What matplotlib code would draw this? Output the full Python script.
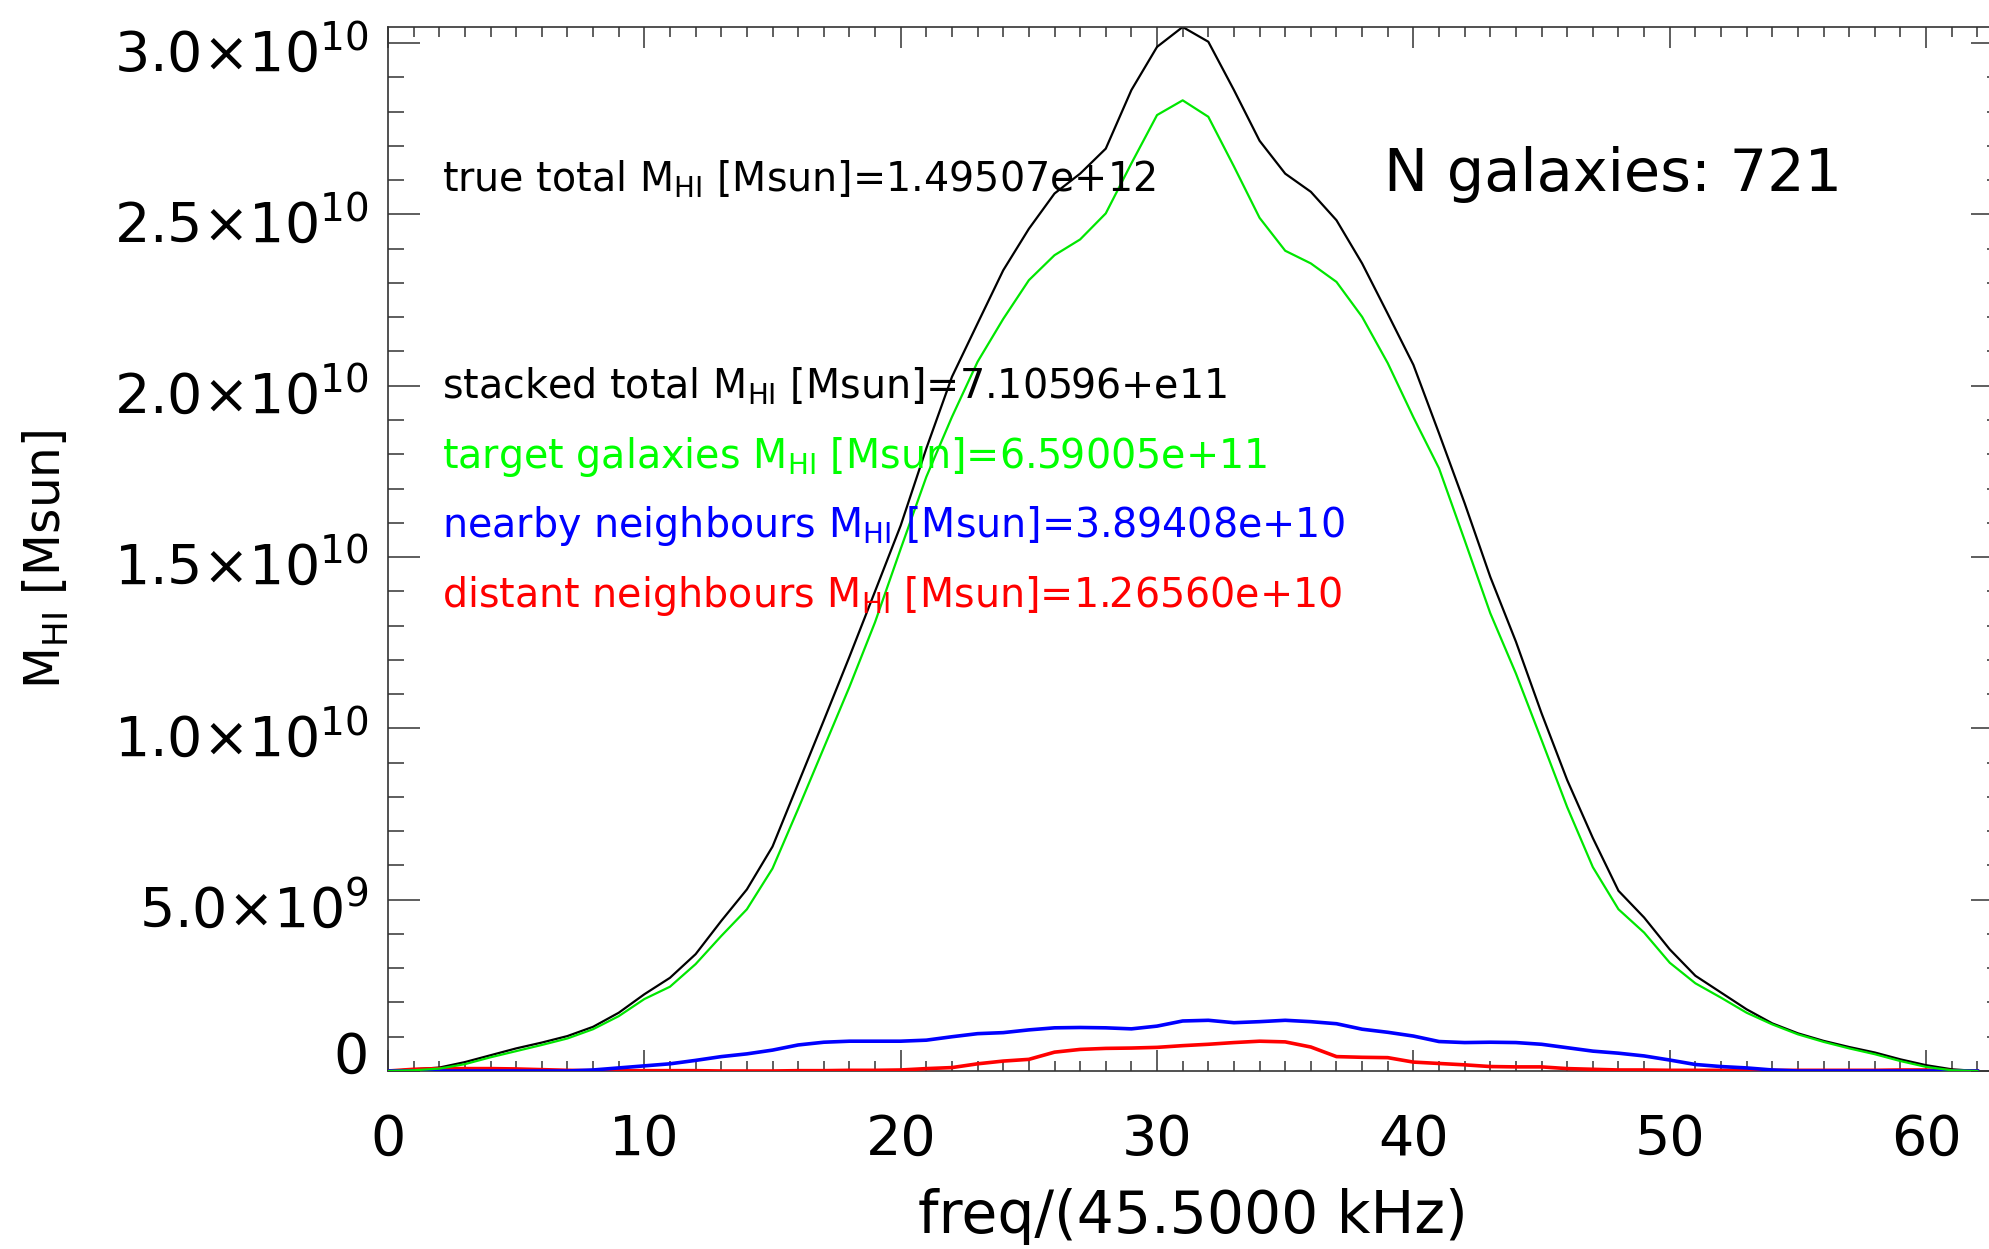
import numpy as np
import matplotlib
matplotlib.use("Agg")
import matplotlib.pyplot as plt
from matplotlib.ticker import FixedLocator, MultipleLocator
from matplotlib.transforms import ScaledTranslation

plt.rcParams['font.family'] = ['DejaVu Sans']
plt.rcParams['mathtext.default'] = 'regular'

# frequency channels of the stacked spectrum
channels = np.arange(0, 63)

# HI mass per channel, in units of 1e9 Msun
stacked_total = [0.0, 0.05, 0.1, 0.26, 0.46, 0.66, 0.83, 1.02, 1.29, 1.70,
                 2.24, 2.72, 3.41, 4.38, 5.3, 6.55, 8.39, 10.23, 12.09, 14.0,
                 15.92, 18.17, 20.26, 21.82, 23.37, 24.58, 25.61, 26.19, 26.92, 28.63,
                 29.89, 30.47, 30.04, 28.63, 27.15, 26.19, 25.66, 24.83, 23.57, 22.1,
                 20.61, 18.61, 16.57, 14.42, 12.53, 10.44, 8.49, 6.8, 5.26, 4.48,
                 3.55, 2.78, 2.29, 1.80, 1.39, 1.10, 0.88, 0.70, 0.54, 0.34,
                 0.17, 0.05, 0.0]
target_galaxies = [0.0, 0.02, 0.07, 0.2, 0.4, 0.58, 0.76, 0.95, 1.22, 1.6,
                   2.1, 2.46, 3.12, 3.94, 4.72, 5.91, 7.65, 9.43, 11.21, 13.1,
                   15.24, 17.34, 19.09, 20.7, 21.95, 23.08, 23.81, 24.27, 25.03, 26.49,
                   27.9, 28.33, 27.85, 26.4, 24.9, 23.94, 23.57, 23.03, 22.01, 20.66,
                   19.08, 17.59, 15.49, 13.36, 11.6, 9.66, 7.7, 5.95, 4.72, 4.04,
                   3.16, 2.56, 2.14, 1.70, 1.36, 1.07, 0.85, 0.66, 0.49, 0.29,
                   0.12, 0.02, 0.0]
nearby_neighbours = [0, 0, 0, 0, 0, 0, 0, 0, 0.03, 0.09,
                     0.15, 0.21, 0.31, 0.42, 0.5, 0.61, 0.76, 0.84, 0.87, 0.87,
                     0.87, 0.9, 1.0, 1.09, 1.12, 1.2, 1.26, 1.27, 1.26, 1.23,
                     1.31, 1.46, 1.48, 1.41, 1.44, 1.48, 1.44, 1.38, 1.22, 1.13,
                     1.02, 0.86, 0.83, 0.84, 0.83, 0.78, 0.68, 0.58, 0.52, 0.44,
                     0.32, 0.19, 0.13, 0.09, 0.03, 0, 0, 0, 0, 0,
                     0, 0, 0]
distant_neighbours = [0.0, 0.05, 0.07, 0.07, 0.07, 0.06, 0.04, 0.02, 0.01, 0.01,
                      0.01, 0.01, 0.01, 0.0, 0.0, 0.0, 0.01, 0.01, 0.02, 0.02,
                      0.03, 0.07, 0.1, 0.21, 0.29, 0.34, 0.55, 0.63, 0.66, 0.67,
                      0.69, 0.74, 0.78, 0.83, 0.87, 0.85, 0.70, 0.42, 0.40, 0.39,
                      0.26, 0.22, 0.18, 0.13, 0.12, 0.12, 0.07, 0.05, 0.03, 0.03,
                      0.02, 0.02, 0.02, 0.02, 0.02, 0.02, 0.02, 0.02, 0.02, 0.03,
                      0.03, 0.01, 0.0]

xtick_values = [0, 10, 20, 30, 40, 50, 60]
ytick_values = [0, 5e9, 1.0e10, 1.5e10, 2.0e10, 2.5e10, 3.0e10]
ytick_labels = ['0', r'$5.0{\times}10^{9}$', r'$1.0{\times}10^{10}$', r'$1.5{\times}10^{10}$',
                r'$2.0{\times}10^{10}$', r'$2.5{\times}10^{10}$', r'$3.0{\times}10^{10}$']

summary_lines = [r'true total M$_{HI}$ [Msun]=1.49507e+12',
                 r'stacked total M$_{HI}$ [Msun]=7.10596+e11',
                 r'target galaxies M$_{HI}$ [Msun]=6.59005e+11',
                 r'nearby neighbours M$_{HI}$ [Msun]=3.89408e+10',
                 r'distant neighbours M$_{HI}$ [Msun]=1.26560e+10']
summary_colors = ['black', 'black', '#00ff00', '#0000ff', '#ff0000']
n_galaxies = 721

unit = 1e9
fig = plt.figure(figsize=(19.9, 12.49), dpi=100)
ax = fig.add_axes([0.19497, 0.14251, 0.81156, 0.83587])

ax.plot(channels, np.array(stacked_total) * unit, color='black', lw=1.6, zorder=2)
ax.plot(channels, np.array(distant_neighbours) * unit, color='#ff0000', lw=2.6, zorder=3)
ax.plot(channels, np.array(nearby_neighbours) * unit, color='#0000ff', lw=2.6, zorder=4)
ax.plot(channels, np.array(target_galaxies) * unit, color='#00e600', lw=1.6, zorder=5)

ax.set_xlim(0, 63)
ax.set_ylim(0, max(stacked_total) * unit)

ax.xaxis.set_major_locator(FixedLocator(xtick_values))
ax.xaxis.set_minor_locator(MultipleLocator(1))
ax.yaxis.set_major_locator(FixedLocator(ytick_values))
ax.yaxis.set_minor_locator(MultipleLocator(1e9))
ax.set_yticklabels(ytick_labels)

for s in ax.spines.values():
    s.set_linewidth(1.2)
    s.set_color('#333333')

ax.tick_params(which='both', direction='in', top=True, right=True,
               width=1.1, color='#333333', labelsize=40)
ax.tick_params(axis='x', which='major', length=15, pad=30)
ax.tick_params(axis='x', which='minor', length=7.5)
ax.tick_params(axis='y', which='major', length=23, pad=14)
ax.tick_params(axis='y', which='minor', length=11.5)

# nudge the y tick labels the way the plotting package places them
for tick, val in zip(ax.yaxis.get_major_ticks(), ytick_values):
    dy = 14 / 72 if val == 0 else -4 / 72
    lab = tick.label1
    lab.set_transform(lab.get_transform() + ScaledTranslation(0, dy, fig.dpi_scale_trans))

ax.set_xlabel('freq/(45.5000 kHz)', fontsize=42)
ax.xaxis.set_label_coords(0.4985, -0.139)
ax.xaxis.label.set_verticalalignment('center')
ax.set_ylabel(r'M$_{HI}$ [Msun]', fontsize=35)
ax.yaxis.set_label_coords(-0.212, 0.49)
ax.yaxis.label.set_verticalalignment('center')

text_y = [25.66e9, 19.62e9, 17.59e9, 15.58e9, 13.54e9]
for line, col, ty in zip(summary_lines, summary_colors, text_y):
    ax.text(2.09, ty, line, color=col, fontsize=28.5, va='baseline', ha='left', zorder=6)

ax.text(38.87, 25.69e9, f'N galaxies: {n_galaxies}', fontsize=42.5,
        va='baseline', ha='left', zorder=6)

fig.savefig('out.png', dpi=100)
